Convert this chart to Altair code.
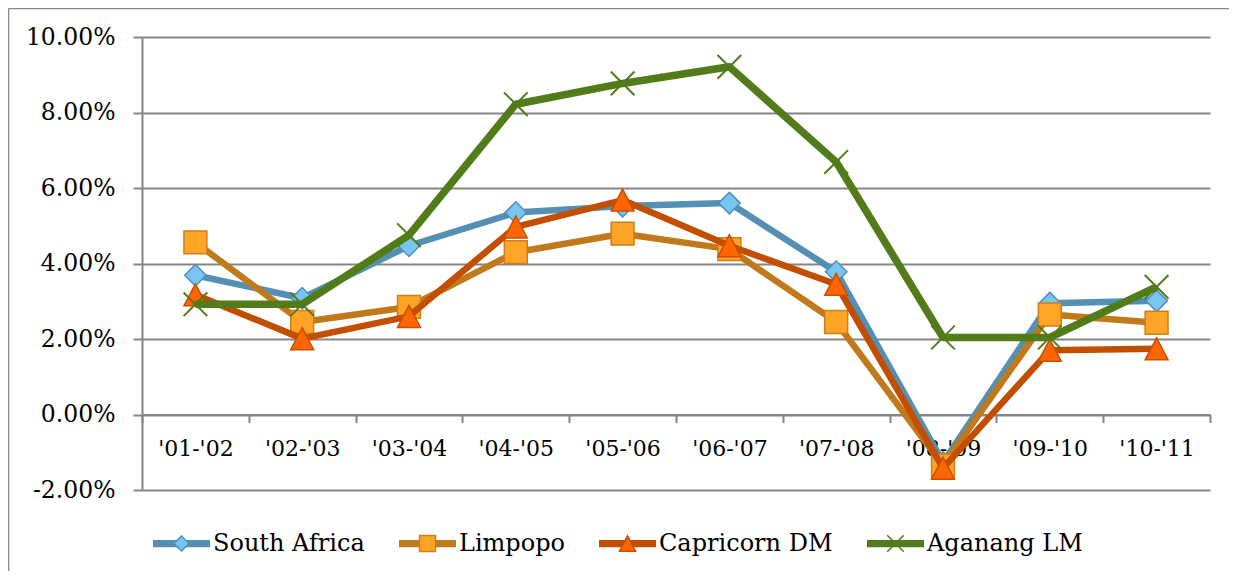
import altair as alt
import pandas as pd

periods = ["'01-'02", "'02-'03", "'03-'04", "'04-'05", "'05-'06",
           "'06-'07", "'07-'08", "'08-'09", "'09-'10", "'10-'11"]
series = ["South Africa", "Limpopo", "Capricorn DM", "Aganang LM"]

# growth rates in percent
south_africa = [3.69, 3.08, 4.47, 5.35, 5.52, 5.60, 3.78, -1.27, 2.95, 3.01]
limpopo = [4.56, 2.45, 2.85, 4.30, 4.79, 4.38, 2.45, -1.35, 2.65, 2.43]
capricorn = [3.17, 2.01, 2.60, 4.97, 5.68, 4.47, 3.45, -1.42, 1.70, 1.74]
aganang = [2.92, 2.92, 4.75, 8.22, 8.77, 9.21, 6.69, 2.04, 2.04, 3.38]

line_colors = ["#5490B3", "#C17A1B", "#C34E00", "#527B19"]
marker_fills = ["#78C6EF", "#FFA427", "#FF6600", "#527B19"]
marker_strokes = ["#4D8FBF", "#CC7F1A", "#CC4D00", "#527B19"]

# marker shapes in the unit box; the leading moves give every symbol the same width
pre = "M-1,0M1,0"
marker_paths = [
    pre + "M0,-0.263L0.263,0L0,0.263L-0.263,0Z",
    pre + "M-0.28,-0.28H0.28V0.28H-0.28Z",
    pre + "M0,-0.27L0.28,0.27H-0.28Z",
    pre + "M-0.29,-0.29L0.29,0.29M-0.29,0.29L0.29,-0.29",
]
# thick legend line built from parallel thin strokes
legend_line_path = "".join(f"M-1,{y}H1" for y in ["-0.1", "-0.06", "-0.02", "0.02", "0.06", "0.1"])

ZW = "\u200b"  # keeps the marker legend separate from the line legend
markers = [s + ZW for s in series]

rows = []
for name, mname, vals in zip(series, markers, [south_africa, limpopo, capricorn, aganang]):
    for p, v in zip(periods, vals):
        rows.append({"period": p, "series": name, "marker": mname, "value": v / 100.0})
df = pd.DataFrame(rows)

W, H = 1068, 453
FONT = "DejaVu Serif"
GREY = "#858585"

x_enc = alt.X(
    "period:N", sort=periods, bandPosition=0.5,
    scale=alt.Scale(type="band", paddingInner=0, paddingOuter=0),
    axis=alt.Axis(title=None, labelAngle=0, offset=-H * 2 / 12, tickBand="extent",
                  tickSize=8, tickWidth=2, tickColor=GREY, domainColor=GREY,
                  domainWidth=2, labelFont=FONT, labelFontSize=22, labelColor="black",
                  labelBaseline="alphabetic", labelPadding=33, grid=False),
)
y_enc = alt.Y(
    "value:Q",
    scale=alt.Scale(domain=[-0.02, 0.10], nice=False, zero=False),
    axis=alt.Axis(title=None, values=[-0.02, 0, 0.02, 0.04, 0.06, 0.08, 0.10],
                  labelExpr="replace(format(datum.value, '.2%'), '\u2212', '-')",
                  tickSize=9, tickWidth=2, tickColor=GREY, domainColor=GREY, domainWidth=2,
                  grid=True, gridColor=GREY, gridWidth=2, labelFont=FONT,
                  labelFontSize=23.5, labelColor="black", labelPadding=18),
)

common_leg = dict(
    title=None, orient="none", legendX=10, legendY=476.8, direction="horizontal",
    symbolSize=3249, symbolStrokeWidth=1.5, labelOffset=2, symbolOffset=0,
    columnPadding=31, labelFont=FONT, labelFontSize=24, padding=0, labelLimit=400,
)
leg_line = alt.Legend(symbolType=legend_line_path, labelColor="black", **common_leg)
leg_mark = alt.Legend(labelOpacity=0, **common_leg)

color_enc = alt.Color("series:N", scale=alt.Scale(domain=series, range=line_colors), legend=leg_line)
fill_enc = alt.Fill("marker:N", scale=alt.Scale(domain=markers, range=marker_fills), legend=leg_mark)
stroke_enc = alt.Stroke("marker:N", scale=alt.Scale(domain=markers, range=marker_strokes), legend=leg_mark)
shape_enc = alt.Shape("marker:N", scale=alt.Scale(domain=markers, range=marker_paths), legend=leg_mark)

base = alt.Chart(df)
layers = []
for i, s in enumerate(series):
    sub = base.transform_filter(alt.datum.series == s)
    lw = 7.5 if i == 3 else 6.5
    layers.append(sub.mark_line(strokeWidth=lw, strokeJoin="round").encode(x=x_enc, y=y_enc, color=color_enc))
    layers.append(sub.mark_point(filled=True, opacity=1, size=6680,
                                 strokeWidth=2 if i == 3 else 1.5).encode(
        x=x_enc, y=y_enc, fill=fill_enc, stroke=stroke_enc, shape=shape_enc))

one = alt.Chart(pd.DataFrame({"a": [0]}))
left_rule = one.mark_rule(color="#888888", strokeWidth=1.5).encode(
    x=alt.value(-133.5), y=alt.value(-28.5), y2=alt.value(H + 81))
top_rule = one.mark_rule(color="#888888", strokeWidth=1.5).encode(
    x=alt.value(-133.5), x2=alt.value(W + 19), y=alt.value(-28.5))

chart = alt.layer(left_rule, top_rule, *layers).properties(
    width=W, height=H,
    autosize=alt.AutoSizeParams(type="none"),
    padding={"left": 134, "top": 29, "right": 19, "bottom": 81},
    background="white",
).configure_view(stroke=None)

chart.save("out.html", embed_options={"renderer": "svg", "actions": False})
